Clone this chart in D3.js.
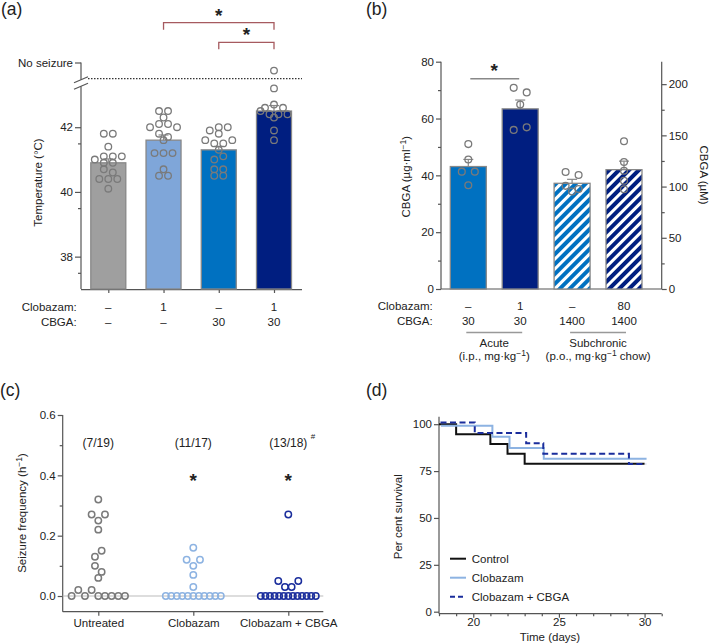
<!DOCTYPE html>
<html><head><meta charset="utf-8">
<script src="https://cdn.jsdelivr.net/npm/d3@7"></script>
<style>
body{margin:0;background:#fff}
svg text{font-family:"Liberation Sans",Arial,Helvetica,sans-serif;fill:#222}
</style>
</head><body>
<svg id="chart" width="709" height="644"></svg>
<script>
// ---------------- DATA ----------------
// Panel (a)
const aCategories = ["Vehicle", "Clobazam", "CBGA", "Clobazam + CBGA"];
const aClobazamLabels = ["–", "1", "–", "1"];
const aCbgaLabels = ["–", "–", "30", "30"];
const aMeans = [40.9, 41.6, 41.3, 42.5];
const aSem = [0.12, 0.16, 0.11, 0.17];
const aPoints = [
  [41.8, 41.8, 41.4, 41.0, 41.1, 41.1, 41.1, 40.9, 40.9, 40.7, 40.6, 40.4, 40.4, 40.4, 40.1],
  [42.5, 42.5, 42.3, 42.0, 42.1, 42.1, 42.0, 41.8, 41.6, 41.7, 41.2, 41.2, 41.2, 40.7, 40.5, 40.5],
  [41.9, 41.8, 42.0, 42.0, 41.6, 41.5, 41.5, 41.6, 41.3, 41.0, 41.1, 40.7, 40.7, 40.5, 40.5],
  [43.75, 43.2, 42.6, 42.7, 42.6, 42.5, 42.4, 42.4, 42.4, 42.3, 41.9, 41.6]
];
const aTicks = [38, 40, 42];
const aMinorTicks = [37.5, 39.5, 41.5];
const aNoSeizure = 44;
const aNoSeizureLabel = "No seizure";
const aCutoff = 43.5;
const aBrackets = [[1, 3], [2, 3]];

// Panel (b)
const bCategories = ["Acute CBGA", "Acute Clobazam + CBGA", "Subchronic CBGA", "Subchronic Clobazam + CBGA"];
const bClobazamLabels = ["–", "1", "–", "80"];
const bCbgaLabels = ["30", "30", "1400", "1400"];
const bMeans = [43.1, 63.4, 37.2, 42.0];
const bSem = [2.5, 3.1, 1.4, 3.0];
const bPoints = [
  [51.0, 45.6, 41.3, 41.3, 36.5],
  [70.8, 69.2, 64.9, 56.0, 56.9],
  [41.2, 40.1, 36.3, 35.2, 34.3],
  [52.0, 44.7, 41.6, 38.1, 35.1]
];
const bHatched = [false, false, true, true];
const bLeftTicks = [0, 20, 40, 60, 80];
const bLeftMinor = [10, 30, 50, 70];
const bRightTicks = [0, 50, 100, 150, 200];
const bRightMinor = [25, 75, 125, 175];
const cbgaMolarMass = 360.5; // g/mol -> µM axis
const bGroups = [
  {name: "Acute", sub: "(i.p., mg·kg", sup: "−1", tail: ")", from: 0, to: 1},
  {name: "Subchronic", sub: "(p.o., mg·kg", sup: "−1", tail: " chow)", from: 2, to: 3}
];

// Panel (c)
const cCategories = ["Untreated", "Clobazam", "Clobazam + CBGA"];
const cPoints = [
  [0.32, 0.27, 0.25, 0.27, 0.22, 0.13, 0.15, 0.10, 0.06, 0.08, 0, 0.02, 0, 0.02, 0, 0, 0, 0, 0],
  [0.16, 0.12, 0.10, 0.12, 0.07, 0.03, 0, 0, 0, 0, 0, 0, 0, 0, 0, 0, 0],
  [0.27, 0.05, 0.03, 0.03, 0.05, 0, 0, 0, 0, 0, 0, 0, 0, 0, 0, 0, 0, 0]
];
const cFractions = ["(7/19)", "(11/17)", "(13/18)"];
const cStars = [false, true, true];
const cTicks = [0, 0.2, 0.4, 0.6];
const cMinor = [0.1, 0.3, 0.5];

// Panel (d)
const dSeries = ["Control", "Clobazam", "Clobazam + CBGA"];
const dControl = [[18, 100], [19, 94.7], [21, 89.5], [22, 84.2], [23, 78.9], [30, 78.9]];
const dClobazam = [[18, 100], [21, 94.1], [22, 88.2], [24, 82.4], [30, 82.4]];
const dCombo = [[18, 100], [20, 94.4], [23, 88.9], [24, 83.3], [29, 77.8], [30, 77.8]];
const dXTicks = [20, 25, 30];
const dXMinor = [18, 19, 21, 22, 23, 24, 26, 27, 28, 29, 31];
const dYTicks = [0, 25, 50, 75, 100];

// ---------------- STYLE ----------------
const AX = "#555";
const TXT = "#222";
const FS = 11.5;
const aColors = ["#9f9f9f", "#7fa6d9", "#0071c1", "#001e80"];
const bColors = ["#0071c1", "#001e80", "#0071c1", "#001e80"];
const cColors = ["#7a7a7a", "#8db3e2", "#1a2d9c"];
const dColors = ["#111111", "#8db3e2", "#1a2d9c"];
const bracketColor = "#a65a5f";

const svg = d3.select("#chart");

function styleAxis(g, fs) {
  g.select("path.domain").remove();
  g.selectAll(".tick line").attr("stroke", AX).attr("stroke-width", 1.2);
  g.selectAll(".tick text").attr("fill", TXT).style("font-size", (fs || FS) + "px");
  return g;
}
function line(x1, y1, x2, y2, color, w, dash) {
  const l = svg.append("line").attr("x1", x1).attr("y1", y1).attr("x2", x2).attr("y2", y2)
    .attr("stroke", color || AX).attr("stroke-width", w || 1.2);
  if (dash) l.attr("stroke-dasharray", dash);
  return l;
}
function text(x, y, s, size, anchor, extra) {
  const t = svg.append("text").attr("x", x).attr("y", y).text(s)
    .style("font-size", size + "px").attr("text-anchor", anchor || "middle");
  if (extra) extra(t);
  return t;
}
function star(x, y) {
  return text(x, y, "*", 19, "middle", t => t.style("font-weight", "bold").attr("fill", "#111"));
}
function supText(x, y, parts, rot) {
  const t = text(x, y, "", FS, "middle", tt => { if (rot) tt.attr("transform", `rotate(${rot},${x},${y})`); });
  t.append("tspan").text(parts[0]);
  t.append("tspan").text(parts[1]).attr("dy", -4).style("font-size", "8.5px");
  t.append("tspan").text(parts[2]).attr("dy", 4);
  return t;
}
// row-based scatter layout
function swarm(values, y, tolPx, spacing, maxW) {
  const idx = values.map((v, i) => i).sort((a, b) => values[b] - values[a] || a - b);
  const rows = []; let cur = null;
  idx.forEach(i => {
    const py = y(values[i]);
    if (cur && Math.abs(py - cur.y0) <= tolPx) cur.items.push(i);
    else { cur = {y0: py, items: [i]}; rows.push(cur); }
  });
  const out = new Array(values.length);
  rows.forEach(r => {
    r.items.sort((a, b) => a - b);
    const n = r.items.length;
    const s = n > 1 ? Math.min(spacing, maxW / (n - 1)) : 0;
    r.items.forEach((i, k) => out[i] = {v: values[i], dx: (k - (n - 1) / 2) * s});
  });
  return out;
}

// panel labels
[["(a)", 1, 14.5], ["(b)", 366, 14.5], ["(c)", 0, 396], ["(d)", 366, 396]].forEach(([s, x, y]) =>
  text(x, y, s, 17.5, "start"));

// ================= PANEL (a) =================
(function () {
  const left = 81, right = 302, bottom = 289;
  const y = d3.scaleLinear().domain([37, 44]).range([bottom, 62.5]);
  const x = d3.scalePoint().domain(aCategories).range([108.3, 274]);
  const bw = 35;

  styleAxis(svg.append("g").attr("transform", `translate(${left},0)`)
    .call(d3.axisLeft(y).tickValues(aTicks).tickSize(6).tickPadding(2).tickFormat(d3.format("d"))));
  styleAxis(svg.append("g").attr("transform", `translate(${left},0)`)
    .call(d3.axisLeft(y).tickValues(aMinorTicks).tickSize(3).tickFormat("")));
  styleAxis(svg.append("g").attr("transform", `translate(${left},0)`)
    .call(d3.axisLeft(y).tickValues([aNoSeizure]).tickSize(6).tickPadding(2).tickFormat(() => aNoSeizureLabel)));
  const by = y(aCutoff);
  line(left, bottom, left, by + 7.5);
  line(left, y(aNoSeizure), left, by + 1);
  line(left - 7, by + 4, left + 7, by - 2);
  line(left - 7, by + 10.5, left + 7, by + 4.5);
  line(left + 7, by, right, by, "#333", 1.3, "1.5,1.5");

  line(left, bottom + 0.6, right, bottom + 0.6);
  styleAxis(svg.append("g").attr("transform", `translate(0,${bottom})`)
    .call(d3.axisBottom(x).tickSize(4).tickFormat("")));

  aCategories.forEach((c, i) => {
    svg.append("rect").attr("x", x(c) - bw / 2).attr("y", y(aMeans[i]))
      .attr("width", bw).attr("height", bottom - y(aMeans[i]))
      .attr("fill", aColors[i]).attr("stroke", "#888").attr("stroke-width", 1.3);
    const ye = y(aMeans[i] + aSem[i]);
    line(x(c), y(aMeans[i]), x(c), ye, "#888", 1.2);
    line(x(c) - 5, ye, x(c) + 5, ye, "#888", 1.2);
    swarm(aPoints[i], y, 4, 9, 30).forEach(p => {
      svg.append("circle").attr("cx", x(c) + p.dx).attr("cy", y(p.v)).attr("r", 3.3)
        .attr("fill", "none").attr("stroke", "#7a7a7a").attr("stroke-width", 1.3);
    });
  });

  const levels = [22.7, 42.3];
  aBrackets.forEach(([a, b], k) => {
    const x1 = x(aCategories[a]), x2 = x(aCategories[b]), yy = levels[k];
    svg.append("path").attr("d", `M${x1},${yy + 7}V${yy}H${x2}V${yy + 7}`)
      .attr("fill", "none").attr("stroke", bracketColor).attr("stroke-width", 1.3);
    star((x1 + x2) / 2, yy - 1);
  });

  text(42, 182.5, "Temperature (°C)", FS, "middle", t => t.attr("transform", "rotate(-90,42,182.5)"));
  text(76.7, 311.3, "Clobazam:", FS, "end");
  text(76.7, 325.5, "CBGA:", FS, "end");
  aCategories.forEach((c, i) => {
    text(x(c), 311.3, aClobazamLabels[i], FS);
    text(x(c), 325.5, aCbgaLabels[i], FS);
  });
})();

// ================= PANEL (b) =================
(function () {
  const left = 441, right = 661.7, bottom = 289, top = 61.7;
  const y = d3.scaleLinear().domain([0, 80]).range([bottom, top]);
  const yR = d3.scaleLinear().domain([0, 80 * 1000 / cbgaMolarMass]).range([bottom, top]);
  const x = d3.scalePoint().domain(bCategories).range([468.3, 624]);
  const bw = 36;

  const defs = svg.append("defs");
  bCategories.forEach((c, i) => {
    if (!bHatched[i]) return;
    const p = defs.append("pattern").attr("id", "hatch" + i).attr("patternUnits", "userSpaceOnUse")
      .attr("width", 7).attr("height", 7).attr("patternTransform", "rotate(45)");
    p.append("rect").attr("width", 7).attr("height", 7).attr("fill", bColors[i]);
    p.append("rect").attr("width", 3).attr("height", 7).attr("fill", "#fff");
  });

  styleAxis(svg.append("g").attr("transform", `translate(${left},0)`)
    .call(d3.axisLeft(y).tickValues(bLeftTicks).tickSize(5).tickPadding(2)));
  styleAxis(svg.append("g").attr("transform", `translate(${left},0)`)
    .call(d3.axisLeft(y).tickValues(bLeftMinor).tickSize(3).tickFormat("")));
  styleAxis(svg.append("g").attr("transform", `translate(${right},0)`)
    .call(d3.axisRight(yR).tickValues(bRightTicks).tickSize(5).tickPadding(2)));
  styleAxis(svg.append("g").attr("transform", `translate(${right},0)`)
    .call(d3.axisRight(yR).tickValues(bRightMinor).tickSize(3).tickFormat("")));
  line(left, bottom, left, top);
  line(right, bottom, right, top);
  line(left, bottom, right, bottom);

  bCategories.forEach((c, i) => {
    svg.append("rect").attr("x", x(c) - bw / 2).attr("y", y(bMeans[i]))
      .attr("width", bw).attr("height", bottom - y(bMeans[i]))
      .attr("fill", bHatched[i] ? `url(#hatch${i})` : bColors[i]).attr("stroke", "#888").attr("stroke-width", 1.3);
    const ye = y(bMeans[i] + bSem[i]);
    line(x(c), y(bMeans[i]), x(c), ye, "#888", 1.2);
    line(x(c) - 5, ye, x(c) + 5, ye, "#888", 1.2);
    swarm(bPoints[i], y, 5, 13, 30).forEach(p => {
      svg.append("circle").attr("cx", x(c) + p.dx).attr("cy", y(p.v)).attr("r", 3.4)
        .attr("fill", "none").attr("stroke", "#7a7a7a").attr("stroke-width", 1.3);
    });
  });

  line(x(bCategories[0]) + 2, 78.7, x(bCategories[1]) - 1, 78.7, "#888", 1.5);
  star((x(bCategories[0]) + x(bCategories[1])) / 2, 77);

  supText(410, 176.7, ["CBGA (µg·ml", "−1", ")"], -90);
  text(700, 175, "CBGA (µM)", FS, "middle", t => t.attr("transform", "rotate(90,700,175)"));

  text(432.7, 310.3, "Clobazam:", FS, "end");
  text(432.7, 325, "CBGA:", FS, "end");
  bCategories.forEach((c, i) => {
    text(x(c), 310.3, bClobazamLabels[i], FS);
    text(x(c), 325, bCbgaLabels[i], FS);
  });
  bGroups.forEach(g => {
    const x1 = x(bCategories[g.from]) - 2, x2 = x(bCategories[g.to]) + 2, xm = (x1 + x2) / 2;
    line(x1, 332.5, x2, 332.5, "#999", 1.5);
    text(xm, 346.5, g.name, FS);
    supText(xm, 359.5, [g.sub, g.sup, g.tail]);
  });
})();

// ================= PANEL (c) =================
(function () {
  const left = 62.7, right = 323.3, bottom = 611.7, top = 415;
  const y = d3.scaleLinear().domain([-0.052, 0.6]).range([bottom, top]);
  const x = d3.scalePoint().domain(cCategories).range([98.3, 288.3]);

  styleAxis(svg.append("g").attr("transform", `translate(${left},0)`)
    .call(d3.axisLeft(y).tickValues(cTicks).tickSize(5).tickPadding(2).tickFormat(d3.format(".1f"))));
  styleAxis(svg.append("g").attr("transform", `translate(${left},0)`)
    .call(d3.axisLeft(y).tickValues(cMinor).tickSize(3).tickFormat("")));
  line(left, bottom, left, top);
  line(left, bottom, right, bottom);
  styleAxis(svg.append("g").attr("transform", `translate(0,${bottom})`)
    .call(d3.axisBottom(x).tickSize(4).tickPadding(3)));
  line(left, y(0), right, y(0), "#bbb", 1);

  cCategories.forEach((c, i) => {
    swarm(cPoints[i], y, 7, 6.67, 55).forEach(p => {
      svg.append("circle").attr("cx", x(c) + p.dx).attr("cy", y(p.v)).attr("r", 3.2)
        .attr("fill", "none").attr("stroke", cColors[i]).attr("stroke-width", 1.5);
    });
    text(x(c), 446.8, cFractions[i], 12);
    if (cStars[i]) star(x(c), 487);
  });
  text(313, 439, "#", 8, "middle");

  supText(26, 513, ["Seizure frequency (h", "−1", ")"], -90);
})();

// ================= PANEL (d) =================
(function () {
  const left = 439, right = 661.7, axisY = 613.7, top = 416.7;
  const y = d3.scaleLinear().domain([0, 104]).range([611.7, top]);
  const x = d3.scaleLinear().domain([18, 31]).range([left, right]);

  styleAxis(svg.append("g").attr("transform", `translate(${left},0)`)
    .call(d3.axisLeft(y).tickValues(dYTicks).tickSize(5).tickPadding(2)));
  styleAxis(svg.append("g").attr("transform", `translate(0,${axisY})`)
    .call(d3.axisBottom(x).tickValues(dXTicks).tickSize(4).tickPadding(0)));
  styleAxis(svg.append("g").attr("transform", `translate(0,${axisY})`)
    .call(d3.axisBottom(x).tickValues(dXMinor).tickSize(2.5).tickFormat("")));
  line(left, axisY, left, top);
  line(left, axisY, right, axisY);

  const series = [dControl, dClobazam, dCombo];
  const offsets = [[0, 0], [2, 1.6], [1.5, -1.8]];
  const dashes = [null, null, "6,3.5"];
  series.forEach((s, i) => {
    const gen = d3.line().curve(d3.curveStepAfter)
      .x(d => x(d[0]) + offsets[i][0]).y(d => y(d[1]) + offsets[i][1]);
    const p = svg.append("path").attr("d", gen(s)).attr("fill", "none")
      .attr("stroke", dColors[i]).attr("stroke-width", 2);
    if (dashes[i]) p.attr("stroke-dasharray", dashes[i]);
  });

  dSeries.forEach((s, i) => {
    const ly = 558.7 + i * 19;
    const l = line(450, ly, 466, ly, dColors[i], 2);
    if (dashes[i]) l.attr("stroke-dasharray", "5,3");
    text(471.7, ly + 4, s, FS, "start");
  });

  text(550, 640.5, "Time (days)", FS);
  text(402.5, 516.7, "Per cent survival", FS, "middle", t => t.attr("transform", "rotate(-90,402.5,516.7)"));
})();
</script>
</body></html>
